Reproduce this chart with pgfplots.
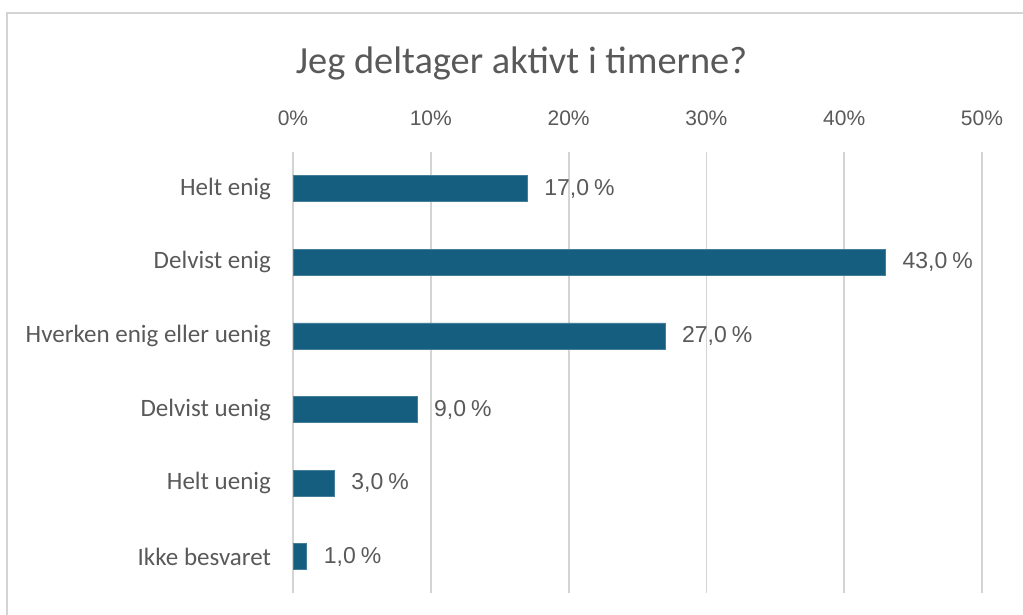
\documentclass[border=0pt]{standalone}
\usepackage{pgfplots}
\pgfplotsset{compat=1.18}
\usepackage{fontspec}
\setmainfont{Carlito}
\newfontfamily\arialfont{Liberation Sans}
\definecolor{barblue}{RGB}{22,94,128}
\definecolor{txtgray}{RGB}{89,89,89}
\definecolor{gridgray}{RGB}{212,212,212}
\begin{document}
\begin{tikzpicture}
\path[use as bounding box] (0,0) rectangle (511.5pt,-307.5pt);
\draw[gridgray, line width=0.75pt] (3.5pt,-307.5pt) -- (3.5pt,-6.5pt) -- (511.5pt,-6.5pt);
\node[txtgray, font=\fontsize{19.2}{22}\selectfont] at (260.75pt,-31.5pt) {Jeg deltager aktivt i timerne?};
\begin{axis}[
  at={(146.5pt,-76pt)}, anchor=north west,
  scale only axis, width=344.5pt, height=220.75pt,
  xbar, bar width=13pt,
  xmin=0, xmax=50, ymin=-0.5, ymax=5.5,
  y dir=reverse,
  xtick={0,10,20,30,40,50},
  xticklabel pos=upper,
  xticklabel={\pgfmathprintnumber{\tick}\%},
  /pgf/number format/assume math mode=true,
  xticklabel style={font=\arialfont\fontsize{10.5}{12}\selectfont, text=txtgray, yshift=9.5pt},
  ytick={0,1,2,3,4,5},
  yticklabels={Helt enig, Delvist enig, Hverken enig eller uenig, Delvist uenig, Helt uenig, Ikke besvaret},
  yticklabel style={font=\fontsize{12.5}{14}\selectfont, text=txtgray, xshift=-7.5pt},
  axis line style={draw=none},
  major tick length=0pt,
  xmajorgrids, major grid style={gridgray, line width=0.9pt},
  nodes near coords={\pgfmathprintnumber[fixed, fixed zerofill, precision=1, use comma, assume math mode=true]{\pgfplotspointmeta}\kern0.22em\%},
  nodes near coords style={font=\arialfont\fontsize{11.5}{13}\selectfont, text=txtgray, anchor=west, xshift=5pt},
  point meta=x,
]
\addplot[fill=barblue, draw=barblue!80!white, line width=0.4pt] coordinates {(17,0) (43,1) (27,2) (9,3) (3,4) (1,5)};
\end{axis}
\end{tikzpicture}
\end{document}
